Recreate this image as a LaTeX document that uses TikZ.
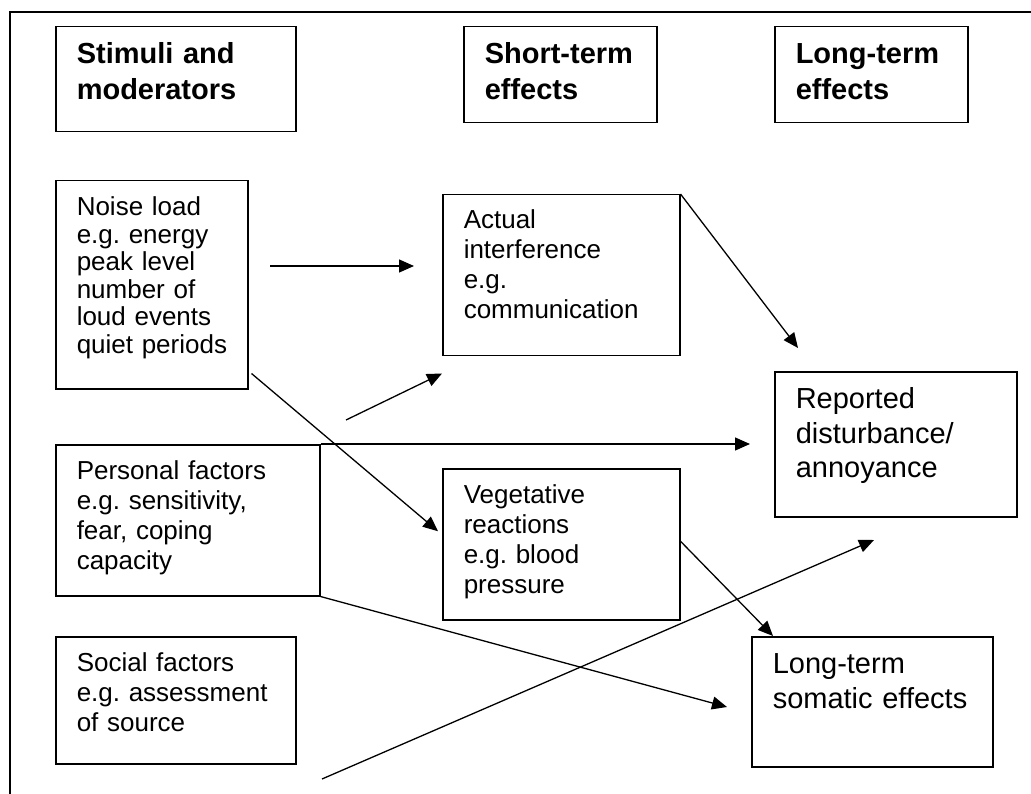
\documentclass[tikz,border=0pt]{standalone}
\usepackage{fontspec}
\setmainfont{Liberation Sans}
\usetikzlibrary{arrows.meta}
\frenchspacing
\newcommand{\headfont}{\fontsize{29}{36}\selectfont\bfseries}
\newcommand{\txtfont}{\fontsize{26}{30}\selectfont}
\newcommand{\bigfont}{\fontsize{29}{34.5}\selectfont}
\tikzset{
  panel/.style={draw,line width=1.5pt,anchor=north west,inner xsep=21pt,inner ysep=0pt,align=left},
  arr/.style={line width=1.3pt,-{Triangle[length=15pt,width=13pt]}}
}

\begin{document}
\begin{tikzpicture}[x=1pt,y=-1pt]
\useasboundingbox (0,0) rectangle (1031,794);
\draw[line width=1.3pt] (10,794) -- (10,12) -- (1031,12);

% column heads
\node[panel,font=\headfont,text width=198pt,text height=37pt,text depth=68pt] (stim) at (55,26) {Stimuli and\\moderators};
\node[panel,font=\headfont,text width=151pt,text height=37pt,text depth=59pt] (short) at (463,26) {Short-term\\effects};
\node[panel,font=\headfont,text width=151pt,text height=37pt,text depth=59pt] (long) at (774,26) {Long-term\\effects};

% stimuli and moderators
\node[panel,font=\fontsize{26}{27.5}\selectfont,text width=150pt,text height=35pt,text depth=173pt] (noise) at (55,180) {Noise load\\e.g. energy\\peak level\\number of\\loud events\\\mbox{quiet periods}};
\node[panel,font=\txtfont,text width=222pt,text height=35pt,text depth=116pt] (personal) at (55,444) {Personal factors\\e.g. sensitivity,\\fear, coping\\capacity};
\node[panel,font=\txtfont,text width=198pt,text height=35pt,text depth=92pt] (social) at (55,636) {Social factors\\e.g. assessment\\of source};

% short-term
\node[panel,font=\txtfont,text width=195pt,text height=34pt,text depth=127pt] (actual) at (442,194) {Actual\\interference\\e.g.\\communication};
\node[panel,font=\txtfont,text width=195pt,text height=35pt,text depth=116pt] (veget) at (442,468) {Vegetative\\reactions\\e.g. blood\\pressure};

% long-term
\node[panel,font=\bigfont,text width=200pt,text height=37pt,text depth=108pt] (reported) at (774,371) {Reported\\disturbance/\\annoyance};
\node[panel,font=\bigfont,text width=199pt,text height=37pt,text depth=93pt] (somatic) at (751,636) {Long-term\\somatic effects};

\coordinate (n1) at (270,266);
\coordinate (a1) at (414,266);
\coordinate (p1) at (346,420);
\coordinate (r1) at (798,348);
\coordinate (r2) at (750,444);
\coordinate (s1) at (727,707);
\coordinate (q1) at (322,779);
\coordinate (r3) at (874,540);

\draw[arr] (n1) -- (a1);
\draw[arr] ([shift={(3,-16)}]noise.south east) -- ([shift={(-4,-13)}]veget.west);
\draw[arr] (p1) -- ([yshift=-17pt]actual.south west);
\draw[arr] (personal.north east) -- (r2);
\draw[arr] (actual.north east) -- (r1);
\draw[arr] ([yshift=3pt]veget.east) -- ([xshift=22pt]somatic.north west);
\draw[arr] (personal.south east) -- (s1);
\draw[arr] (q1) -- (r3);
\end{tikzpicture}
\end{document}
